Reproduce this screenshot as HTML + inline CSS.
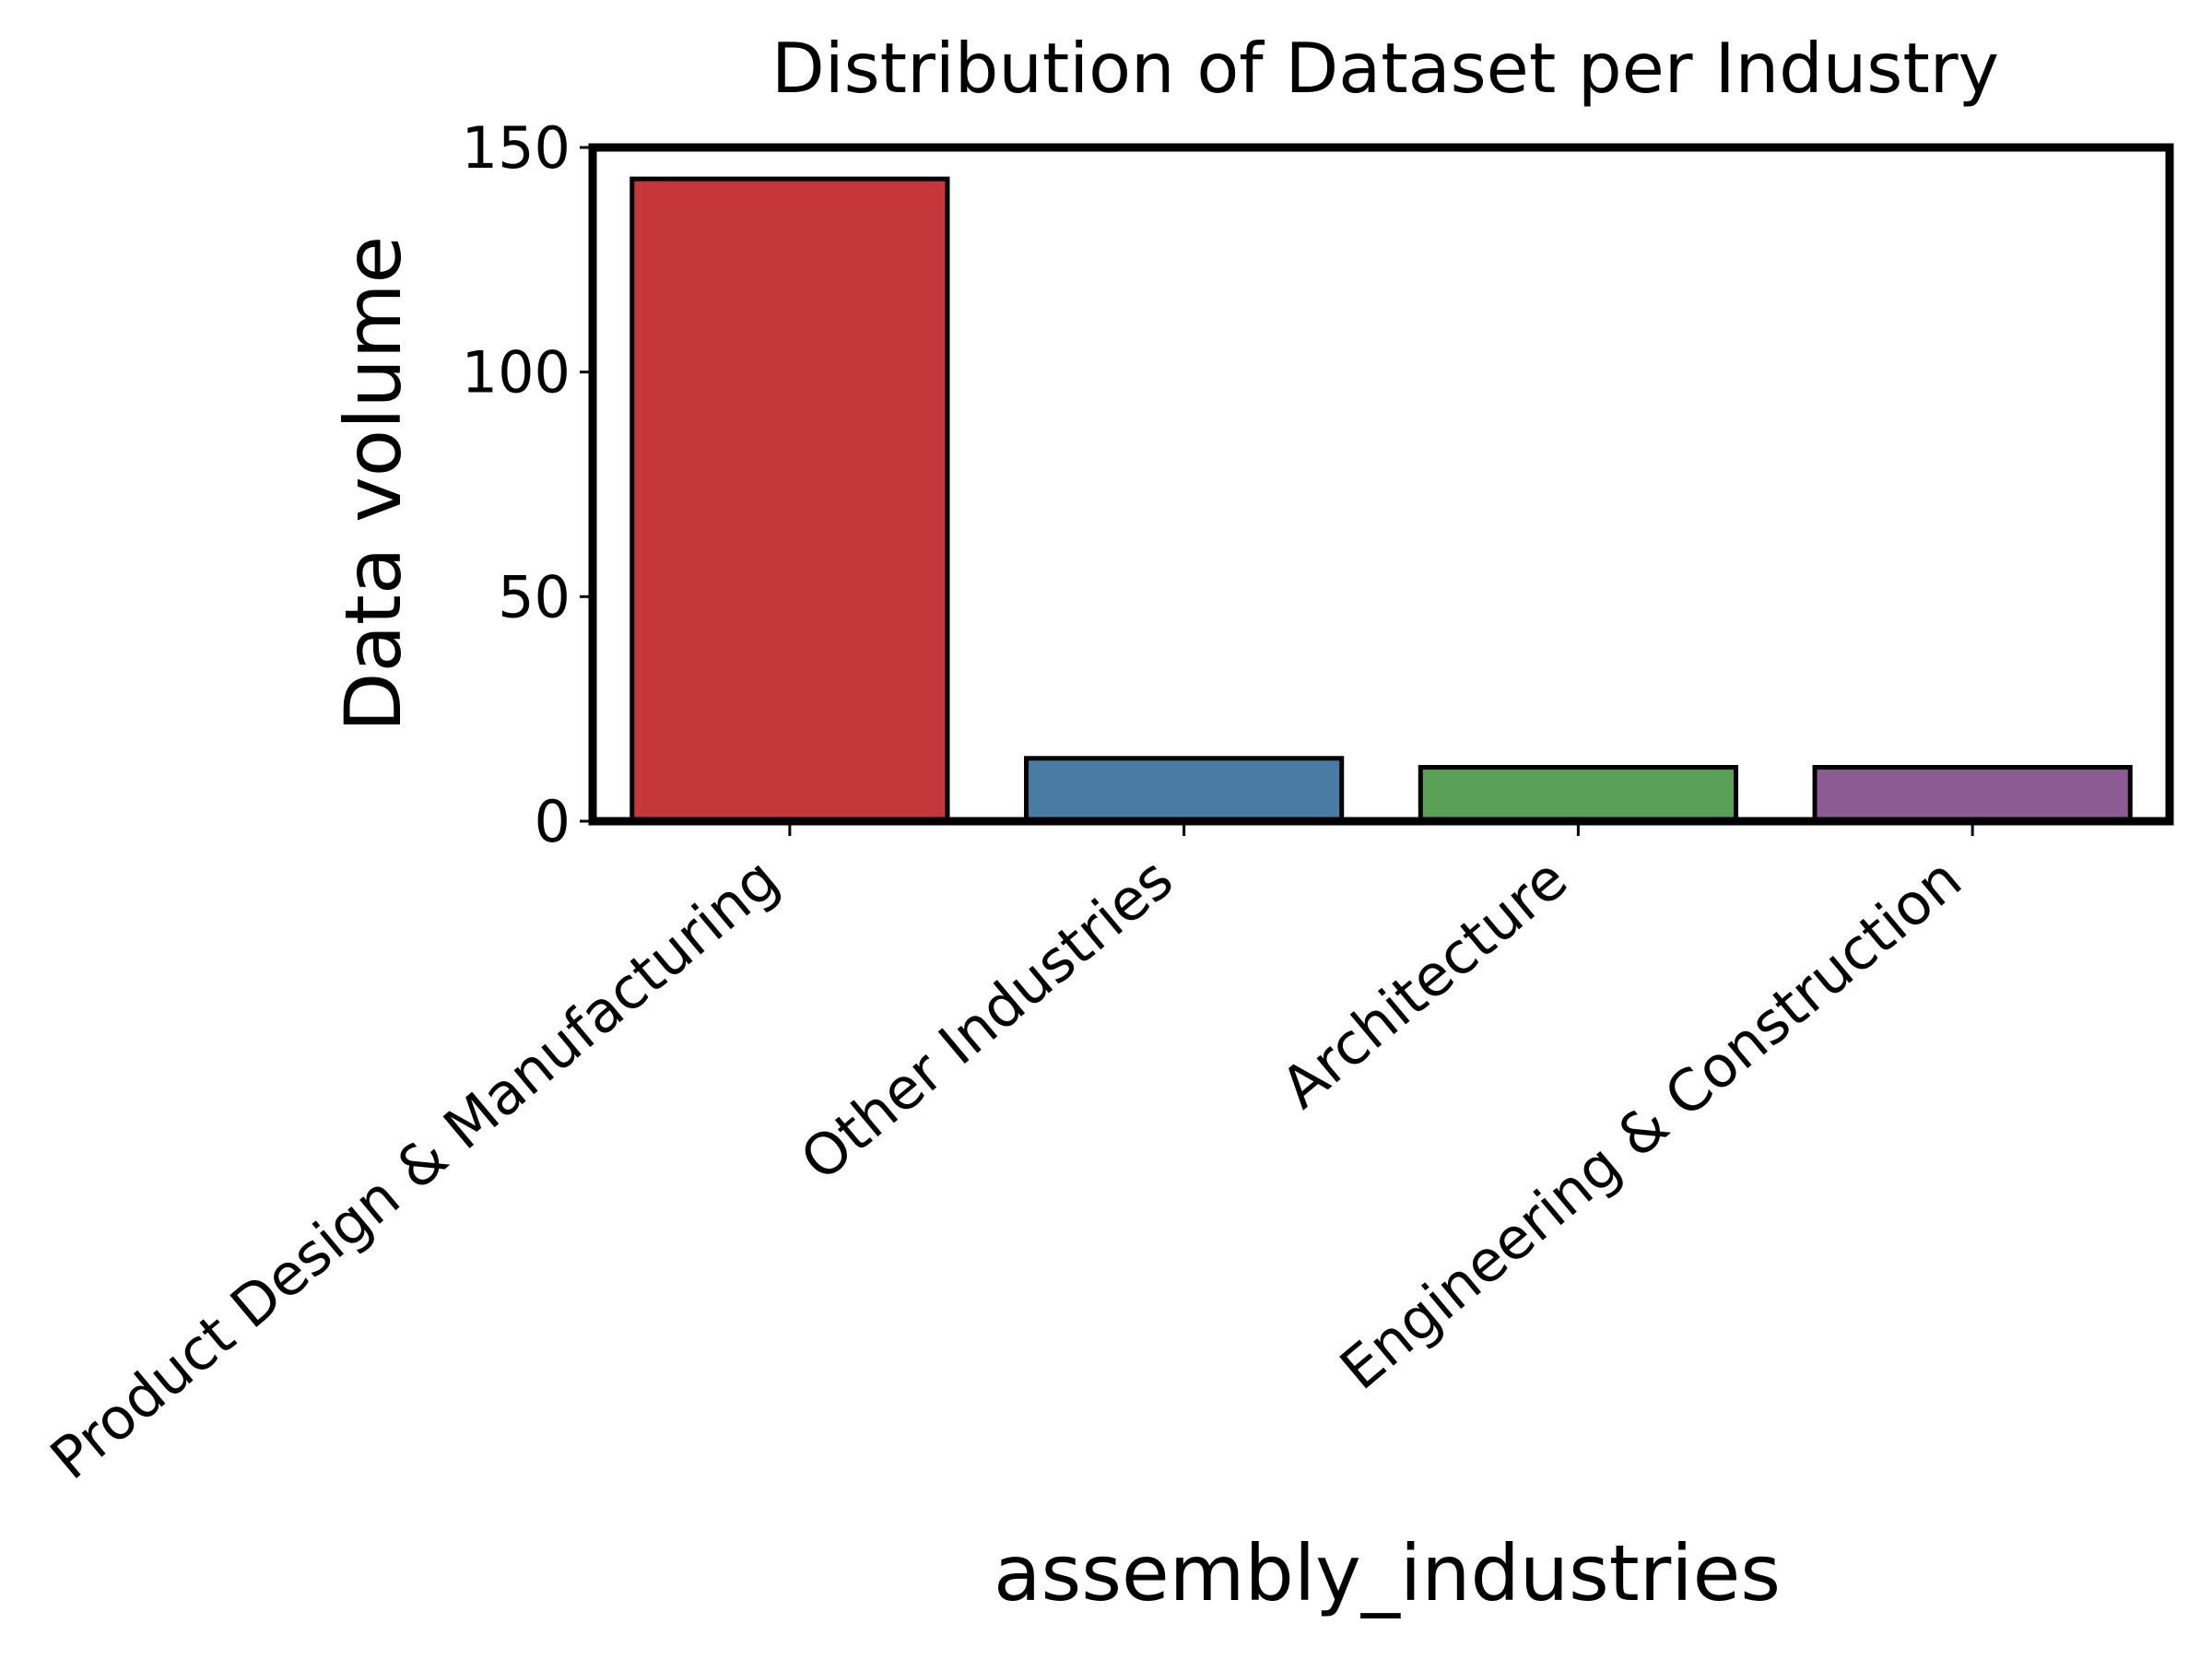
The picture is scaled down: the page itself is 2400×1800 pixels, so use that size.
<!DOCTYPE html>
<html><head><meta charset="utf-8"><style>
html,body{margin:0;padding:0;background:#fff;}
svg{display:block;font-family:"DejaVu Sans","Liberation Sans",sans-serif;}
</style></head><body>
<svg id="chart" width="2400" height="1800" viewBox="0 0 2400 1800">
<rect width="2400" height="1800" fill="#fff"/>
<text x="1503" y="100" font-size="75" text-anchor="middle">Distribution of Dataset per Industry</text>
<g id="bars"></g>
<g id="yticks"></g>
<g id="xticks"></g>
<rect x="643" y="160" width="1711" height="731" fill="none" stroke="#000" stroke-width="9"/>
<text transform="translate(434,525) rotate(-90)" font-size="84" text-anchor="middle">Data volume</text>
<text x="1505" y="1736" font-size="84" text-anchor="middle">assembly_industries</text>
</svg>
<script>
const categories = ["Product Design & Manufacturing","Other Industries","Architecture","Engineering & Construction"];
const values = [143, 14, 12, 12];
const colors = ["#c4373a","#4a7ba4","#5ba057","#8c5b94"];
const yTicks = [0, 50, 100, 150];
const yTickLabels = ["0","50","100","150"];

const NS = "http://www.w3.org/2000/svg";
const L = 643, R = 2354, T = 160, B = 891, yMax = 150;
const xScale = i => L + (i + 0.5) * (R - L) / categories.length;
const yScale = v => B - v / yMax * (B - T);
const bw = 0.8 * (R - L) / categories.length;

const gb = document.getElementById('bars');
values.forEach((v, i) => {
  const r = document.createElementNS(NS, 'rect');
  r.setAttribute('x', xScale(i) - bw / 2);
  r.setAttribute('y', yScale(v));
  r.setAttribute('width', bw);
  r.setAttribute('height', B - yScale(v));
  r.setAttribute('fill', colors[i]);
  r.setAttribute('stroke', '#000');
  r.setAttribute('stroke-width', '5');
  
  
  gb.appendChild(r);
});

const gy = document.getElementById('yticks');
yTicks.forEach((t, i) => {
  const y = yScale(t);
  const ln = document.createElementNS(NS, 'line');
  ln.setAttribute('x1', L - 14); ln.setAttribute('x2', L);
  ln.setAttribute('y1', y); ln.setAttribute('y2', y);
  ln.setAttribute('stroke', '#000'); ln.setAttribute('stroke-width', '3');
  
  
  gy.appendChild(ln);
  const tx = document.createElementNS(NS, 'text');
  tx.setAttribute('x', L - 24); tx.setAttribute('y', y + 22);
  tx.setAttribute('font-size', '62'); tx.setAttribute('text-anchor', 'end');
  tx.textContent = yTickLabels[i];
  
  
  gy.appendChild(tx);
});

const gx = document.getElementById('xticks');
categories.forEach((c, i) => {
  const x = xScale(i);
  const ln = document.createElementNS(NS, 'line');
  ln.setAttribute('x1', x); ln.setAttribute('x2', x);
  ln.setAttribute('y1', B); ln.setAttribute('y2', B + 16);
  ln.setAttribute('stroke', '#000'); ln.setAttribute('stroke-width', '3');
  
  
  gx.appendChild(ln);
  const tx = document.createElementNS(NS, 'text');
  tx.setAttribute('transform', 'translate(' + (x - 30) + ',' + (B + 44) + ') rotate(-40)');
  tx.setAttribute('font-size', '62'); tx.setAttribute('text-anchor', 'end');
  tx.setAttribute('dy', '0.55em');
  tx.textContent = c;
  
  
  gx.appendChild(tx);
});
</script>
</body></html>
